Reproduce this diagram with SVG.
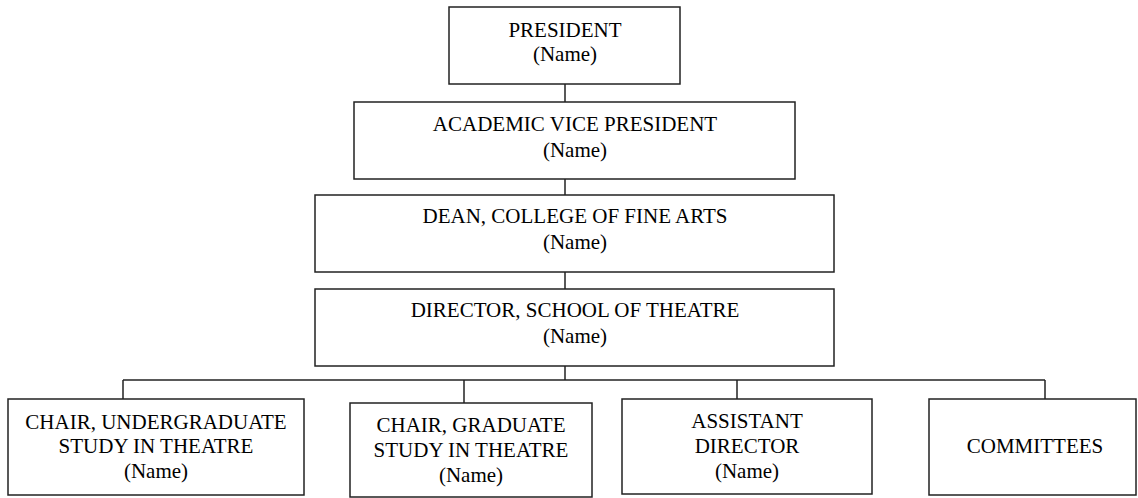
<svg xmlns="http://www.w3.org/2000/svg" width="1138" height="498" viewBox="0 0 1138 498">
<style>
rect.box{fill:#fff;stroke:#222;stroke-width:1.5}
text{font-family:"Liberation Serif","Times New Roman",serif;font-size:21px;fill:#000;text-anchor:middle}
.conn line{stroke:#222;stroke-width:1.5}
</style>
<rect x="0" y="0" width="1138" height="498" fill="#fff"/>
<g class="conn" id="connectors">
<line x1="565" y1="84" x2="565" y2="102"/>
<line x1="565" y1="179" x2="565" y2="195"/>
<line x1="565" y1="272" x2="565" y2="289"/>
<line x1="565" y1="366" x2="565" y2="380"/>
<line x1="123" y1="380" x2="1045" y2="380"/>
<line x1="123" y1="380" x2="123" y2="399"/>
<line x1="464" y1="380" x2="464" y2="403"/>
<line x1="737" y1="380" x2="737" y2="399"/>
<line x1="1045" y1="380" x2="1045" y2="399"/>
</g>
<g id="president">
<rect class="box" x="449" y="7" width="231" height="77"/>
<text x="565" y="36.5">PRESIDENT</text>
<text x="565" y="61">(Name)</text>
</g>
<g id="avp">
<rect class="box" x="354" y="102" width="441" height="77"/>
<text x="575" y="131">ACADEMIC VICE PRESIDENT</text>
<text x="575" y="156.5">(Name)</text>
</g>
<g id="dean">
<rect class="box" x="315" y="195" width="519" height="77"/>
<text x="575" y="223">DEAN, COLLEGE OF FINE ARTS</text>
<text x="575" y="248.5">(Name)</text>
</g>
<g id="director">
<rect class="box" x="315" y="289" width="519" height="77"/>
<text x="575" y="317">DIRECTOR, SCHOOL OF THEATRE</text>
<text x="575" y="342.5">(Name)</text>
</g>
<g id="chair-ug">
<rect class="box" x="8" y="399" width="296" height="96"/>
<text x="156" y="429">CHAIR, UNDERGRADUATE</text>
<text x="156" y="452.5">STUDY IN THEATRE</text>
<text x="156" y="477.5">(Name)</text>
</g>
<g id="chair-grad">
<rect class="box" x="350" y="403" width="242" height="94"/>
<text x="471" y="432">CHAIR, GRADUATE</text>
<text x="471" y="456.5">STUDY IN THEATRE</text>
<text x="471" y="481.5">(Name)</text>
</g>
<g id="assistant">
<rect class="box" x="622" y="399" width="250" height="95"/>
<text x="747" y="427.5">ASSISTANT</text>
<text x="747" y="452.5">DIRECTOR</text>
<text x="747" y="477.5">(Name)</text>
</g>
<g id="committees">
<rect class="box" x="929" y="399" width="207" height="96"/>
<text x="1035" y="453">COMMITTEES</text>
</g>
</svg>
